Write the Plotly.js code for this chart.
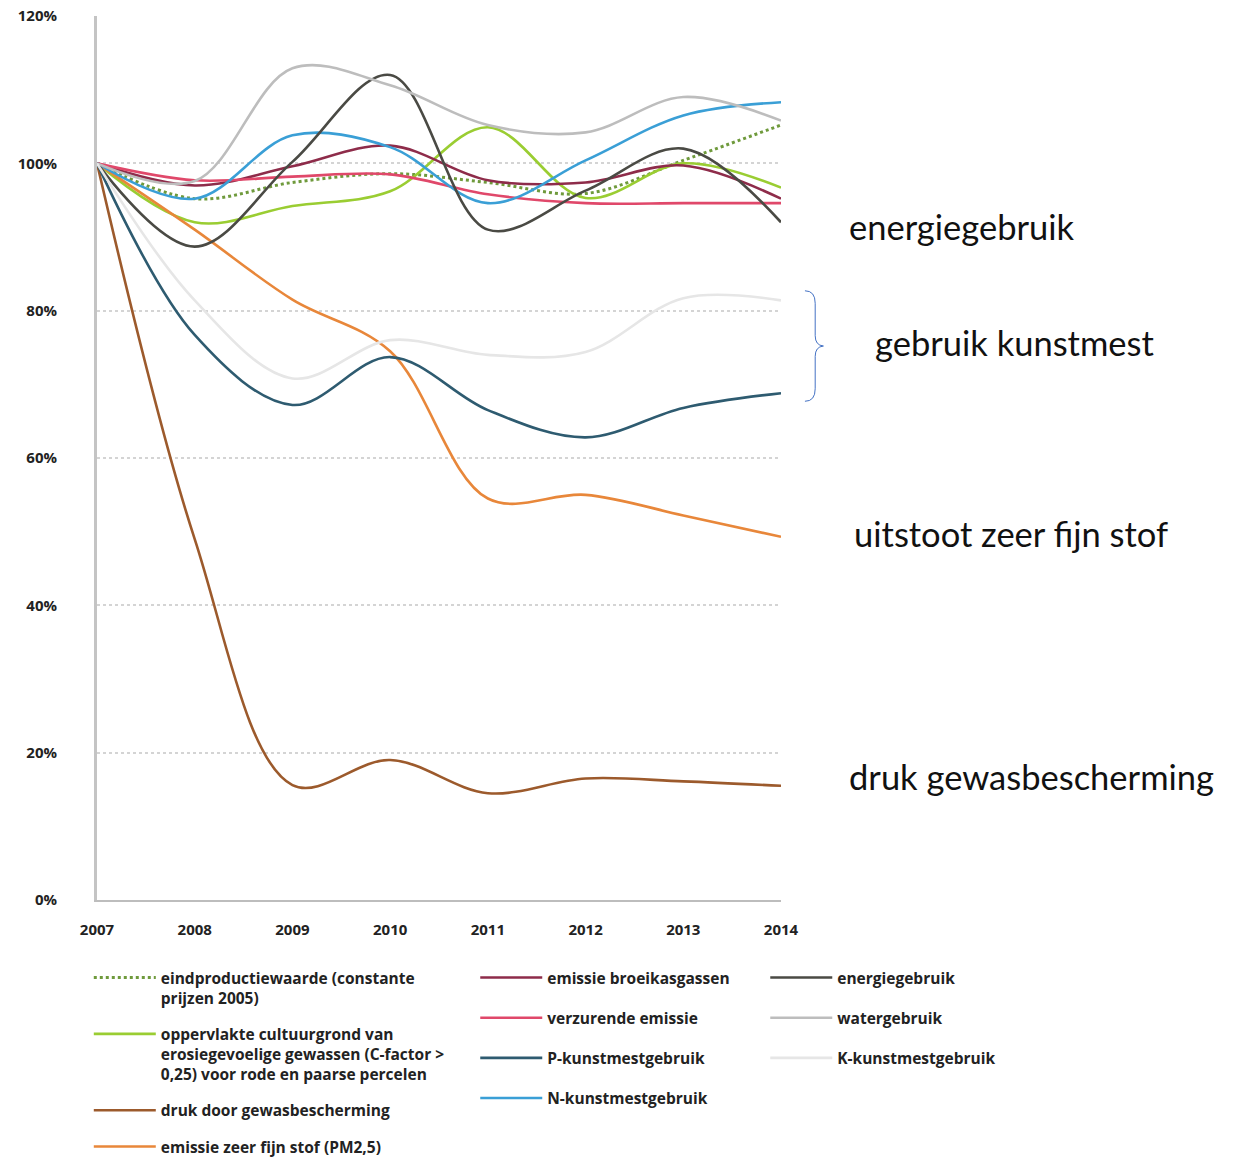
<!DOCTYPE html>
<html>
<head>
<meta charset="utf-8">
<script src="https://cdn.plot.ly/plotly-3.0.1.min.js"></script>
<style>
  body { margin: 0; background: #fff; }
  #plot { width: 1238px; height: 1162px; }
</style>
</head>
<body>
<div id="plot"></div>
<script>
const years = [2007, 2008, 2009, 2010, 2011, 2012, 2013, 2014];

// index 2007 = 100%
const eindproductiewaarde = [100, 95.2, 97.4, 98.6, 97.4, 95.9, 100.4, 105.2];
const oppervlakteErosie   = [100, 92.0, 94.2, 96.2, 104.9, 95.3, 100.0, 96.7];
const drukGewas           = [100, 49.0, 15.6, 19.0, 14.5, 16.5, 16.1, 15.5];
const fijnStof            = [100, 91.0, 81.5, 74.5, 54.5, 55.0, 52.2, 49.3];
const broeikasgassen      = [100, 97.0, 99.6, 102.4, 97.7, 97.4, 99.7, 95.2];
const verzurend           = [100, 97.7, 98.2, 98.5, 95.8, 94.6, 94.6, 94.6];
const pKunstmest          = [100, 76.7, 67.2, 73.7, 66.5, 62.8, 66.8, 68.8];
const nKunstmest          = [100, 95.2, 103.8, 102.2, 94.6, 100.4, 106.5, 108.3];
const energie             = [100, 88.7, 100.2, 112.0, 91.0, 96.3, 102.0, 92.0];
const water               = [100, 97.6, 112.9, 110.6, 105.2, 104.2, 109.0, 105.8];
const kKunstmest          = [100, 81.4, 70.8, 76.0, 74.0, 74.4, 81.7, 81.4];

const yTicks = [0, 20, 40, 60, 80, 100, 120];
const yTickText = ['0%', '20%', '40%', '60%', '80%', '100%', '120%'];

const sideLabels = ['energiegebruik', 'gebruik kunstmest', 'uitstoot zeer fijn stof', 'druk gewasbescherming'];

function line(name, y, color, legend, dash) {
  return {
    x: years, y: y, name: name, type: 'scatter', mode: 'lines',
    legend: legend, legendgroup: name,
    line: {color: color, width: dash ? 3 : 2.6, shape: 'spline', smoothing: 1, dash: dash || 'solid'}
  };
}

const data = [
  line('eindproductiewaarde (constante<br>prijzen 2005)', eindproductiewaarde, '#6f9a3c', 'legend', 'dot'),
  line('oppervlakte cultuurgrond van<br>erosiegevoelige gewassen (C-factor ><br>0,25) voor rode en paarse percelen', oppervlakteErosie, '#9acd32', 'legend'),
  line('druk door gewasbescherming', drukGewas, '#9c5a2c', 'legend'),
  line('emissie zeer fijn stof (PM2,5)', fijnStof, '#e8873a', 'legend'),
  line('emissie broeikasgassen', broeikasgassen, '#8e2c4a', 'legend2'),
  line('verzurende emissie', verzurend, '#e0486a', 'legend2'),
  line('P-kunstmestgebruik', pKunstmest, '#2e5b70', 'legend2'),
  line('N-kunstmestgebruik', nKunstmest, '#3a9fd6', 'legend2'),
  line('energiegebruik', energie, '#4a4a44', 'legend3'),
  line('watergebruik', water, '#bdbdbd', 'legend3'),
  line('K-kunstmestgebruik', kKunstmest, '#e6e6e6', 'legend3')
];

const legendFont = {family: 'Open Sans, sans-serif', size: 15.5, color: '#222', weight: 'bold'};
function legendAt(x, gap) {
  return {
    x: x, y: -0.069, xanchor: 'left', yanchor: 'top', orientation: 'v', valign: 'top',
    font: legendFont, itemwidth: 62, tracegroupgap: gap, bgcolor: 'rgba(0,0,0,0)'
  };
}

const sideFont = {family: 'Lato, sans-serif', size: 34.5, color: '#111'};
const annotations = [
  {y: 91.4, x: 1.097, text: sideLabels[0]},
  {y: 75.7, x: 1.134, text: sideLabels[1]},
  {y: 49.8, x: 1.104, text: sideLabels[2]},
  {y: 16.8, x: 1.097, text: sideLabels[3]}
].map(a => ({
  xref: 'paper', yref: 'y', x: a.x, y: a.y, text: a.text, showarrow: false,
  xanchor: 'left', yanchor: 'middle', font: sideFont
}));

const layout = {
  width: 1238, height: 1162,
  margin: {l: 97, r: 457, t: 16, b: 262, autoexpand: false},
  paper_bgcolor: '#fff', plot_bgcolor: '#fff',
  showlegend: true,
  xaxis: {
    range: [2007, 2014], tickvals: years, ticktext: years.map(String),
    showgrid: false, zeroline: false, showline: true, linecolor: '#bdbdbd', linewidth: 2,
    ticks: '', ticklabelstandoff: 15,
    tickfont: {family: 'Open Sans, sans-serif', size: 15, color: '#222', weight: 'bold'}
  },
  yaxis: {
    range: [0, 120], tickvals: yTicks, ticktext: yTickText,
    showgrid: true, gridcolor: '#d4d4d4', griddash: 'dot', gridwidth: 1.5,
    zeroline: false, showline: true, linecolor: '#c4c4c4', linewidth: 3,
    ticks: '', ticklabelstandoff: 34,
    tickfont: {family: 'Open Sans, sans-serif', size: 15, color: '#222', weight: 'bold'}
  },
  legend: legendAt(-0.012, 13),
  legend2: legendAt(0.553, 17),
  legend3: legendAt(0.977, 17),
  annotations: annotations,
  shapes: [{
    type: 'path', xref: 'paper', yref: 'y',
    path: 'M 1.035 82.7 Q 1.05 82.7 1.05 81 L 1.05 76.6 Q 1.05 75.3 1.062 75.2 Q 1.05 75.1 1.05 73.8 L 1.05 69.4 Q 1.05 67.7 1.035 67.7',
    line: {color: '#4472c4', width: 1}
  }]
};

Plotly.newPlot('plot', data, layout, {displayModeBar: false});
</script>
</body>
</html>
